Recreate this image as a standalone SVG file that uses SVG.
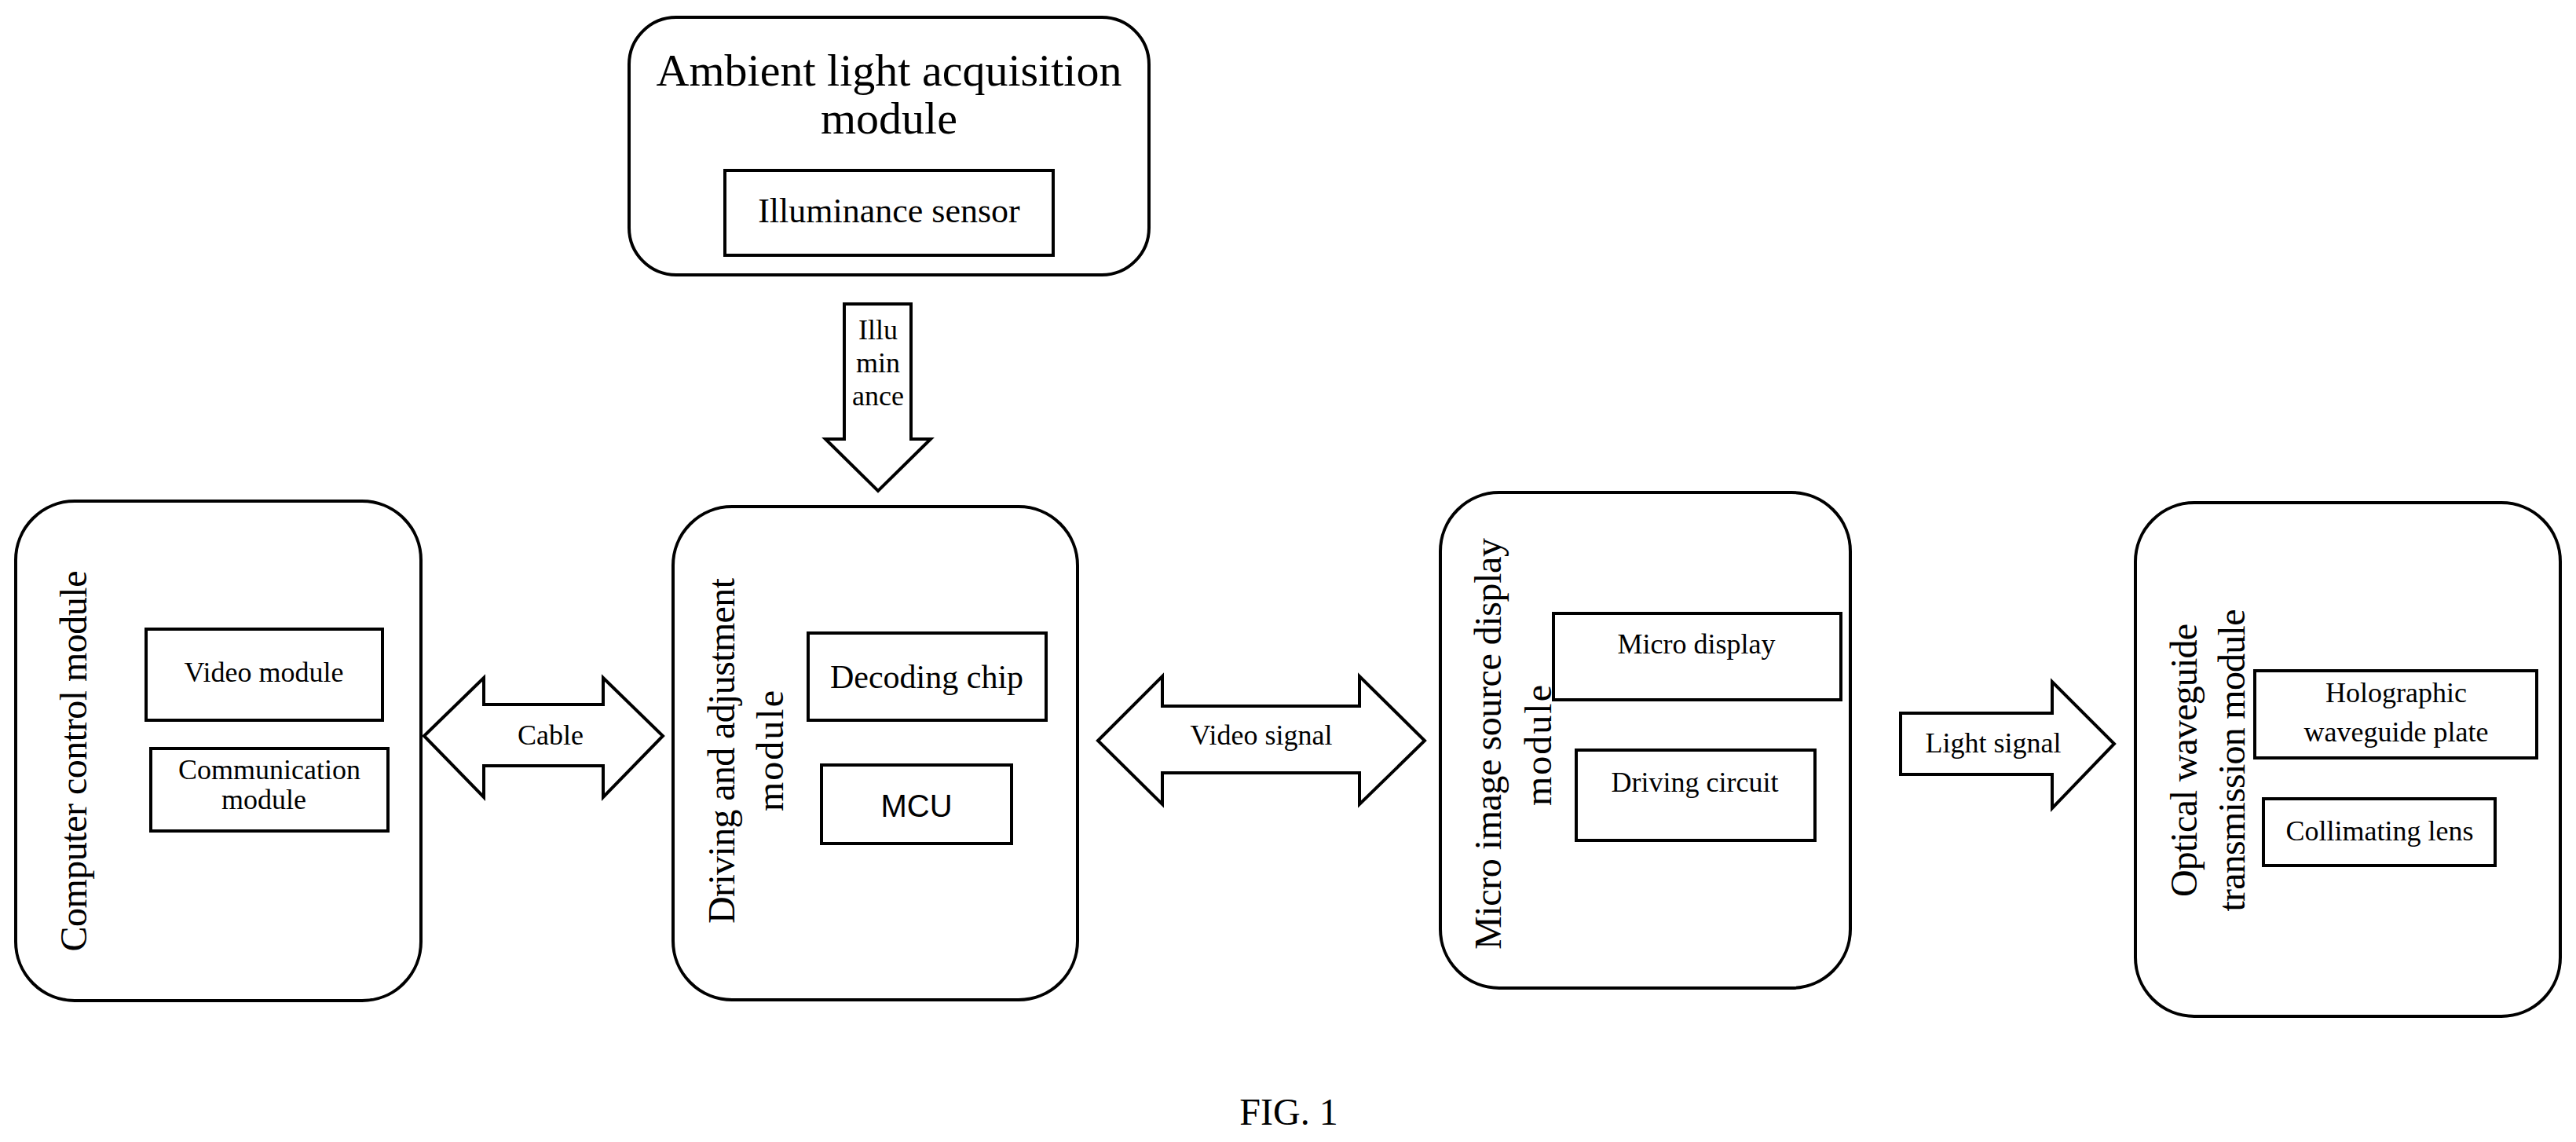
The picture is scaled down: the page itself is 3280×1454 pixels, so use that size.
<svg xmlns="http://www.w3.org/2000/svg" width="3280" height="1454" viewBox="0 0 3280 1454">
<style>
.m{fill:#fff;stroke:#000;stroke-width:4}
.b{fill:#fff;stroke:#000;stroke-width:4}
.a{fill:#fff;stroke:#000;stroke-width:4;stroke-linejoin:miter}
text{font-family:"Liberation Serif","Times New Roman",serif;fill:#000;text-anchor:middle}
.t{font-size:36px}
.v{font-size:48px;letter-spacing:2px}
</style>
<rect width="3280" height="1454" fill="#fff"/>
<g id="ambient">
<rect class="m" x="801" y="22" width="662" height="328" rx="60"/>
<text x="1132" y="109" style="font-size:58px">Ambient light acquisition</text>
<text x="1132" y="170" style="font-size:58px">module</text>
<rect class="b" x="923" y="217" width="418" height="108"/>
<text x="1132" y="283" style="font-size:44px">Illuminance sensor</text>
</g>
<g id="computer">
<rect class="m" x="20" y="638" width="516" height="636" rx="75"/>
<text class="v" transform="translate(110,968) rotate(-90)" textLength="487" lengthAdjust="spacing">Computer control module</text>
<rect class="b" x="186" y="801" width="301" height="116"/>
<text class="t" x="336" y="868">Video module</text>
<rect class="b" x="192" y="953" width="302" height="105"/>
<text class="t" x="343" y="992">Communication</text>
<text class="t" x="336" y="1030">module</text>
</g>
<g id="driving">
<rect class="m" x="857" y="645" width="515" height="628" rx="75"/>
<text class="v" transform="translate(935,955) rotate(-90)" textLength="442" lengthAdjust="spacing">Driving and adjustment</text>
<text class="v" transform="translate(997,955) rotate(-90)">module</text>
<rect class="b" x="1029" y="806" width="303" height="111"/>
<text x="1180" y="876" style="font-size:42px">Decoding chip</text>
<rect class="b" x="1046" y="974" width="242" height="100"/>
<text x="1167" y="1040" style="font-family:'Liberation Sans',Arial,sans-serif;font-size:40px">MCU</text>
</g>
<g id="micro">
<rect class="m" x="1834" y="627" width="522" height="631" rx="75"/>
<text class="v" transform="translate(1911,946) rotate(-90)" textLength="526" lengthAdjust="spacing">Micro image source display</text>
<text class="v" transform="translate(1975,948) rotate(-90)">module</text>
<rect class="b" x="1978" y="781" width="366" height="110"/>
<text class="t" x="2160" y="832">Micro display</text>
<rect class="b" x="2007" y="955" width="304" height="115"/>
<text class="t" x="2158" y="1008">Driving circuit</text>
</g>
<g id="optical">
<rect class="m" x="2719" y="640" width="541" height="654" rx="75"/>
<text class="v" transform="translate(2797,967) rotate(-90)" textLength="350" lengthAdjust="spacing">Optical waveguide</text>
<text class="v" transform="translate(2858,967) rotate(-90)" textLength="387" lengthAdjust="spacing">transmission module</text>
<rect class="b" x="2871" y="854" width="359" height="111"/>
<text class="t" x="3051" y="894">Holographic</text>
<text class="t" x="3051" y="944">waveguide plate</text>
<rect class="b" x="2882" y="1017" width="295" height="85"/>
<text class="t" x="3030" y="1070">Collimating lens</text>
</g>
<g id="connectors">
<polygon class="a" points="1075,387 1160,387 1160,559 1185,559 1118,625 1051,559 1075,559"/>
<text class="t" x="1118" y="432">Illu</text>
<text class="t" x="1118" y="474">min</text>
<text class="t" x="1118" y="516">ance</text>
<polygon class="a" points="540,937 616,863 616,897 768,897 768,863 844,937 768,1015 768,975 616,975 616,1015"/>
<text class="t" x="701" y="948">Cable</text>
<polygon class="a" points="1398,943 1480,861 1480,899 1731,899 1731,861 1814,943 1731,1024 1731,984 1480,984 1480,1024"/>
<text class="t" x="1606" y="948">Video signal</text>
<polygon class="a" points="2420,908 2613,908 2613,868 2692,947 2613,1029 2613,986 2420,986"/>
<text class="t" x="2538" y="958">Light signal</text>
</g>
<text x="1641" y="1432" style="font-size:48px">FIG. 1</text>
</svg>
